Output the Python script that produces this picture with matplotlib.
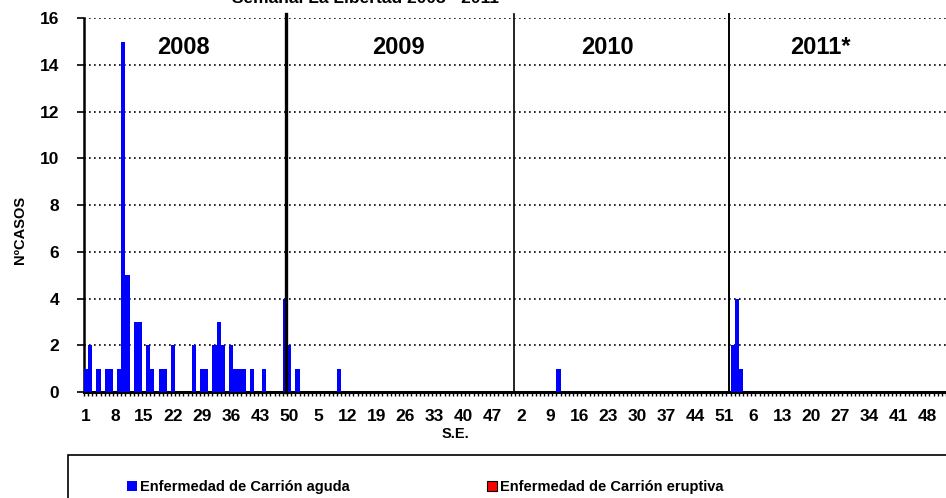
import numpy as np
import matplotlib
matplotlib.use("Agg")
import matplotlib.pyplot as plt
from matplotlib.patches import Rectangle

plt.rcParams['font.family'] = ['Liberation Sans', 'DejaVu Sans']
plt.rcParams['font.weight'] = 'bold'

# casos semanales por año (S.E. 1..52)
years = ["2008", "2009", "2010", "2011*"]
casos_2008 = [1, 2, 0, 1, 0, 1, 1, 0, 1, 15,
              5, 0, 3, 3, 0, 2, 1, 0, 1, 1,
              0, 2, 0, 0, 0, 0, 2, 0, 1, 1,
              0, 2, 3, 2, 0, 2, 1, 1, 1, 0,
              1, 0, 0, 1, 0, 0, 0, 0, 4, 2,
              0, 1]
casos_2009 = [0, 0, 0, 0, 0, 0, 0, 0, 0, 1,
              0, 0, 0, 0, 0, 0, 0, 0, 0, 0,
              0, 0, 0, 0, 0, 0, 0, 0, 0, 0,
              0, 0, 0, 0, 0, 0, 0, 0, 0, 0,
              0, 0, 0, 0, 0, 0, 0, 0, 0, 0,
              0, 0]
casos_2010 = [0, 0, 0, 0, 0, 0, 0, 0, 0, 0,
              1, 0, 0, 0, 0, 0, 0, 0, 0, 0,
              0, 0, 0, 0, 0, 0, 0, 0, 0, 0,
              0, 0, 0, 0, 0, 0, 0, 0, 0, 0,
              0, 0, 0, 0, 0, 0, 0, 0, 0, 0,
              0, 0]
casos_2011 = [2, 4, 1, 0, 0, 0, 0, 0, 0, 0,
              0, 0, 0, 0, 0, 0, 0, 0, 0, 0,
              0, 0, 0, 0, 0, 0, 0, 0, 0, 0,
              0, 0, 0, 0, 0, 0, 0, 0, 0, 0,
              0, 0, 0, 0, 0, 0, 0, 0, 0, 0,
              0, 0]
# forma eruptiva: sin casos en todo el periodo
eruptiva = [0] * 208
semanas = list(range(1, 53)) * 4

aguda = casos_2008 + casos_2009 + casos_2010 + casos_2011
x = np.arange(len(aguda))

W, H = 946, 498
fig = plt.figure(figsize=(W / 100, H / 100), dpi=100)
ax = fig.add_axes([84 / W, 1 - 392 / H, 1 - 84 / W, (392 - 18.3) / H])

b1 = ax.bar(x, aguda, width=1.0, color='#0000FF', linewidth=0, zorder=3,
            label='Enfermedad de Carrión aguda')
b2 = ax.bar(x, eruptiva, width=1.0, color='#FF0000', edgecolor='black',
            linewidth=0.8, zorder=3, label='Enfermedad de Carrión eruptiva')

ax.set_xlim(-0.5, (W - 84) / 4.17 - 0.5)
ax.set_ylim(0, 16)
ax.set_yticks(np.arange(0, 17, 2))
ax.yaxis.grid(True, linestyle=(0, (1, 2)), color='black', linewidth=1.2)
ax.set_axisbelow(True)

ax.set_xticks(x[::7])
ax.set_xticklabels([str(s) for s in semanas[::7]], fontsize=12.5, fontweight='bold')
ax.set_xticks(np.arange(-0.5, len(aguda), 1), minor=True)
ax.tick_params(axis='x', which='major', length=0, pad=12.5)
ax.tick_params(axis='x', which='minor', length=3, width=1, direction='out')
ax.tick_params(axis='y', length=4.8, width=1.2, pad=13, labelsize=12.5)
for lab in ax.get_yticklabels():
    lab.set_fontweight('bold')

for s in ['top', 'right']:
    ax.spines[s].set_visible(False)
ax.spines['left'].set_linewidth(1.8)
ax.spines['bottom'].set_linewidth(2.2)

# separadores de año y etiquetas
sep_pos = [48.35, 103.2, 155.2]
sep_lw = [2.4, 1.2, 1.4]
for p, lw in zip(sep_pos, sep_lw):
    ax.plot([p, p], [0, 16.2], color='black', linewidth=lw, zorder=4, clip_on=False)
year_pos = [23.5, 75.3, 125.8, 177.2]
for yr, p in zip(years, year_pos):
    ax.text(p, 14.76, yr, ha='center', va='center', fontsize=17, fontweight='bold')

fig.text(365 / W, 1 - 3 / H, 'Semanal La Libertad 2008 - 2011', ha='center',
         va='baseline', fontsize=12.5, fontweight='bold')
fig.text(455 / W, 1 - 434 / H, 'S.E.', ha='center', va='center',
         fontsize=10.5, fontweight='bold')
fig.text(20 / W, 1 - 230 / H, 'NºCASOS', ha='center', va='center',
         rotation=90, fontsize=10.5, fontweight='bold')

# caja de leyenda (recortada a la derecha y abajo)
fig.patches.append(Rectangle((68 / W, -0.05), 1.0, 0.05 + (498 - 455) / H,
                             transform=fig.transFigure, fill=False,
                             edgecolor='black', linewidth=1.2))
fig.legend(handles=[b1, b2], loc='center', bbox_to_anchor=(425 / W, 11 / H),
           ncol=2, frameon=False, prop={'weight': 'bold', 'size': 10.5},
           handlelength=0.7, handleheight=0.7, handletextpad=0.2, columnspacing=9.4)

fig.savefig('out.png', dpi=100)
